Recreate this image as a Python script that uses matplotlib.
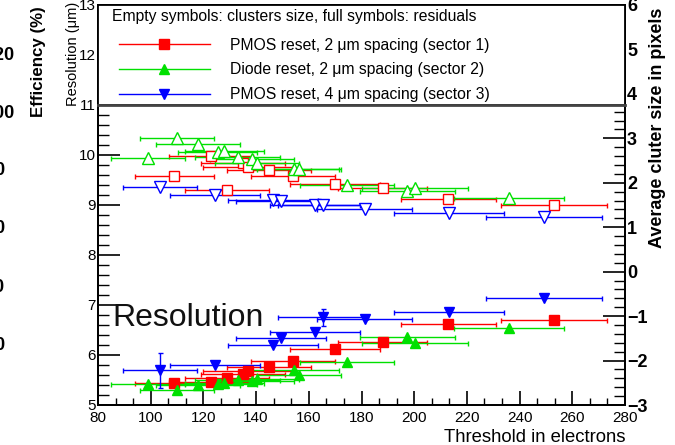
import matplotlib
matplotlib.use('Agg')
import matplotlib.pyplot as plt
from matplotlib.lines import Line2D
from matplotlib.patches import Rectangle
from matplotlib.ticker import MultipleLocator
from matplotlib.transforms import blended_transform_factory

plt.rcParams['font.family'] = ['Liberation Sans', 'DejaVu Sans']

# sector 1: PMOS reset, 2 um spacing
thr_s1 = [109, 123, 129, 135, 137, 145, 154, 170, 188, 213, 253]
xerr_s1 = [15, 16, 16, 16, 17, 16, 16, 17, 17, 18, 20]
res_s1 = [5.44, 5.46, 5.54, 5.62, 5.68, 5.76, 5.88, 6.12, 6.27, 6.62, 6.70]
clu_s1 = [2.15, 2.60, 1.84, 2.45, 2.36, 2.29, 2.15, 1.97, 1.88, 1.64, 1.50]

# sector 2: diode reset, 2 um spacing
thr_s2 = [99, 110, 118, 125.5, 128, 133, 138.4, 140.3, 154.4, 156.3, 174.5, 197.3, 200.3, 236]
xerr_s2 = [14, 14, 16, 15, 15, 16, 16, 16, 17, 16, 18, 18, 20, 21]
res_s2 = [5.42, 5.30, 5.40, 5.42, 5.44, 5.50, 5.48, 5.52, 5.70, 5.60, 5.87, 6.36, 6.24, 6.54]
clu_s2 = [2.56, 3.01, 2.87, 2.69, 2.72, 2.58, 2.54, 2.45, 2.31, 2.31, 1.95, 1.82, 1.88, 1.66]

# sector 3: PMOS reset, 4 um spacing
thr_s3 = [103.5, 124.4, 146.4, 149.5, 162.3, 165.4, 181.3, 213.2, 249.3]
xerr_s3 = [14, 17, 17, 17, 17, 17, 18, 21, 22]
res_s3 = [5.70, 5.80, 6.20, 6.35, 6.46, 6.76, 6.72, 6.86, 7.14]
reserr_s3 = [0.35, 0, 0, 0, 0, 0.17, 0, 0, 0]
clu_s3 = [1.91, 1.73, 1.61, 1.60, 1.50, 1.50, 1.42, 1.32, 1.23]

labels = ['PMOS reset, 2 μm spacing (sector 1)',
          'Diode reset, 2 μm spacing (sector 2)',
          'PMOS reset, 4 μm spacing (sector 3)']
colors = ['#ff0000', '#00e000', '#0000ff']
full_markers = ['s', '^', 'v']
eff_ticks = [120, 100, 80, 60, 40, 20]

fig = plt.figure(figsize=(6.75, 4.45), dpi=100)
ax = fig.add_axes([98 / 675, 1 - 405 / 445, 527 / 675, 400 / 445])
ax2 = ax.twinx()

ax.set_xlim(80, 280)
ax.set_ylim(5, 13)
ax2.set_ylim(-3, 6)

series = [(thr_s1, xerr_s1, res_s1, clu_s1, None),
          (thr_s2, xerr_s2, res_s2, clu_s2, None),
          (thr_s3, xerr_s3, res_s3, clu_s3, reserr_s3)]

for (x, xe, res, clu, re), c, m in zip(series, colors, full_markers):
    # full symbols: residuals (left axis)
    ax.errorbar(x, res, xerr=xe, yerr=re, fmt=m, color=c, ms=7 if m == 's' else 7.5,
                mec=c, elinewidth=1, capsize=1.8, capthick=1)
    # empty symbols: cluster size (right axis)
    ax2.errorbar(x, clu, xerr=xe, fmt=m, color=c, mfc='white',
                 mec=c, mew=1, ms=7 if m == 's' else 8, elinewidth=1, capsize=1.8,
                 capthick=1)

# axis styling
for a in (ax, ax2):
    for s in a.spines.values():
        s.set_linewidth(1.3)

ax.set_xticks(range(80, 281, 20))
ax.xaxis.set_minor_locator(MultipleLocator(20 / 3))
ax.set_yticks(range(5, 14))
ax.yaxis.set_minor_locator(MultipleLocator(0.2))
ax.tick_params(axis='x', which='major', direction='in', length=10, width=1.2,
               labelsize=11, pad=4, top=False)
ax.tick_params(axis='x', which='minor', direction='in', length=5, width=1, top=False)
ax.tick_params(axis='y', which='major', direction='in', length=16, width=1.2,
               labelsize=11, pad=1.5, right=False)
ax.tick_params(axis='y', which='minor', direction='in', length=8, width=1, right=False)

ax2.set_yticks(range(-3, 7))
ax2.yaxis.set_minor_locator(MultipleLocator(0.2))
ax2.tick_params(axis='y', which='major', direction='in', length=16, width=1.2,
                labelsize=13, pad=1.5, left=False)
ax2.tick_params(axis='y', which='minor', direction='in', length=8, width=1, left=False)
for t in ax2.get_yticklabels():
    t.set_fontweight('bold')

# legend box over the top part of the frame
blend = blended_transform_factory(ax.transAxes, ax.transData)
box = Rectangle((0, 11), 1, 2, transform=blend, facecolor='white',
                edgecolor='black', lw=1.3, zorder=4, clip_on=False)
ax2.add_patch(box)
ax2.plot([0, 1], [11, 11], transform=blend, color='#444444', lw=2, zorder=4.5,
         clip_on=False)

ax2.text(14 / 527, 1 - 12 / 400, 'Empty symbols: clusters size, full symbols: residuals',
         transform=ax2.transAxes, ha='left', va='center', fontsize=11.3, zorder=6)

handles = [Line2D([0], [0], color=c, lw=1, marker=m, ms=6.5, mec=c)
           for c, m in zip(colors, full_markers)]
leg = ax2.legend(handles, labels, loc='center left',
                 bbox_to_anchor=(17 / 527, 1 - 65 / 400), frameon=False,
                 fontsize=11.3, handlelength=5.8, handletextpad=1.27,
                 labelspacing=0.62, borderpad=0.25, borderaxespad=0)
leg.set_zorder(5)

ax.text(14 / 527, 87 / 400, 'Resolution', transform=ax.transAxes, fontsize=23,
        ha='left', va='center', color='#111111')

# axis titles
fig.text(73 / 675, 1 - 54 / 445, 'Resolution (μm)', rotation=90,
         ha='center', va='center', fontsize=10.5)
fig.text(657 / 675, 1 - 128 / 445, 'Average cluter size in pixels', rotation=90,
         ha='center', va='center', fontsize=13, fontweight='bold')
fig.text(625 / 675, 1 - 437 / 445, 'Threshold in electrons', ha='right',
         va='center', fontsize=13.3)

# neighbouring efficiency axis, cut by the figure edge
fig.text(38 / 675, 1 - 62 / 445, 'Efficiency (%)', rotation=90, ha='center',
         va='center', fontsize=12.2, fontweight='bold')
for i, v in enumerate(eff_ticks):
    fig.text(-15 / 675, 1 - (55 + 58 * i) / 445, str(v), ha='left', va='center',
             fontsize=13, fontweight='bold')

fig.savefig('out.png', dpi=100)
